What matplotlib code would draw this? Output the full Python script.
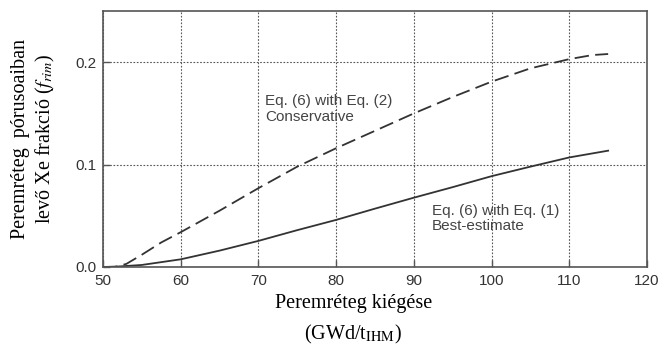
import numpy as np
import matplotlib
matplotlib.use("Agg")
import matplotlib.pyplot as plt

plt.rcParams['font.family'] = ['Liberation Sans', 'DejaVu Sans']
plt.rcParams['mathtext.fontset'] = 'stix'

# burnup (GWd/tIHM) and rim pore Xe fraction
x_cons = [50, 51.5, 53, 55, 57.5, 60, 65, 70, 75, 80, 85, 90, 95, 100, 105, 110, 113, 115]
f_cons = [0.0, 0.0, 0.003, 0.012, 0.024, 0.034, 0.055, 0.077, 0.098, 0.116, 0.133,
          0.150, 0.166, 0.181, 0.194, 0.203, 0.207, 0.208]

x_best = [50, 52, 55, 60, 65, 70, 75, 80, 85, 90, 95, 100, 105, 110, 115]
f_best = [0.0, 0.0005, 0.002, 0.0075, 0.016, 0.0255, 0.036, 0.046, 0.057, 0.0677,
          0.078, 0.0887, 0.098, 0.107, 0.1136]

xticks = [50, 60, 70, 80, 90, 100, 110, 120]
yticks = [0.0, 0.1, 0.2]

fig = plt.figure(figsize=(6.62, 3.52), dpi=100)
ax = fig.add_axes([103/662, 1-267/352, 544/662, 256/352])

ln, = ax.plot(x_cons, f_cons, color='#333333', lw=1.3)
ln.set_dashes((8, 3.5))
ax.plot(x_best, f_best, color='#333333', lw=1.3)

ax.set_xlim(50, 120)
ax.set_ylim(0, 0.25)
ax.set_xticks(xticks)
ax.set_yticks(yticks)
ax.set_yticklabels(['%.1f' % v for v in yticks])
ax.tick_params(direction='in', length=5, width=1, color='#555555',
               labelsize=11, labelcolor='#333333', pad=5)
ax.grid(True, color='#555555', lw=0.8, ls=(0, (1.5, 1.5)))
for s in ax.spines.values():
    s.set_color('#555555')
    s.set_linewidth(1.2)

ax.text(70.85, 0.169, 'Eq. (6) with Eq. (2)\nConservative', fontsize=11,
        color='#444444', va='top', ha='left', linespacing=1.15)
ax.text(92.3, 0.062, 'Eq. (6) with Eq. (1)\nBest-estimate', fontsize=11,
        color='#444444', va='top', ha='left', linespacing=1.15)

ax.set_xlabel('Peremréteg kiégése\n(GWd/t$_{\\mathrm{IHM}}$)', family='Liberation Serif',
              fontsize=14.5, linespacing=1.6)
ax.xaxis.set_label_coords(0.46, -0.105)
ax.xaxis.label.set_va('top')
ax.set_ylabel('Peremréteg  pórusoaiban\nlevő Xe frakció ($f_{rim}$)',
              family='Liberation Serif', fontsize=14.5, linespacing=1.25)
ax.yaxis.set_label_coords(-0.085, 0.5)

fig.savefig('out.png', dpi=100)
